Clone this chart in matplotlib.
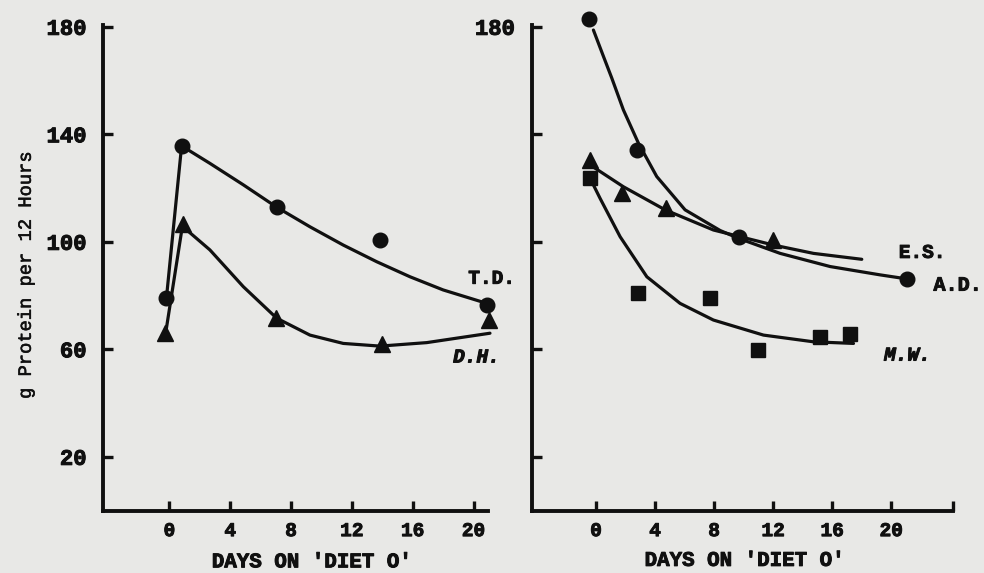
import matplotlib
matplotlib.use("Agg")
import matplotlib.pyplot as plt
import matplotlib.patheffects as pe

# ---------------- data ----------------
# Left panel
td_days = [-0.2, 0.8, 7.05, 13.85, 20.87]
td_vals = [79.0, 135.7, 112.9, 100.5, 76.5]
dh_days = [-0.3, 0.9, 7.0, 14.0, 21.0]
dh_vals = [66.0, 106.5, 71.8, 61.8, 70.8]

td_curve_days = [-0.2, 0.8, 2.66, 4.86, 7.05, 9.24, 11.43, 13.63, 15.82, 18.0, 20.87]
td_curve_vals = [79.0, 135.7, 129.2, 121.2, 112.9, 105.6, 98.8, 92.6, 87.0, 82.1, 77.1]
dh_curve_days = [-0.25, 0.85, 2.66, 4.86, 7.05, 9.24, 11.43, 13.85, 16.92, 21.08]
dh_curve_vals = [66.0, 105.8, 97.0, 83.3, 71.6, 65.3, 62.2, 61.2, 62.5, 66.0]

# Right panel
ad_days = [-0.45, 2.76, 9.65, 21.06]
ad_vals = [182.8, 134.2, 101.9, 86.2]
es_days = [-0.4, 1.74, 4.75, 12.0]
es_vals = [130.3, 118.1, 112.5, 100.6]
mw_days = [-0.4, 2.87, 7.73, 10.94, 15.19, 17.2]
mw_vals = [123.6, 81.1, 79.0, 59.8, 64.7, 65.7]

ad_curve_days = [-0.18, 0.5, 1.06, 1.85, 2.87, 4.11, 6.03, 8.41, 9.65, 12.47, 15.86, 19.25, 21.06]
ad_curve_vals = [178.8, 169.0, 161.0, 149.1, 136.7, 124.3, 111.9, 104.2, 101.3, 95.7, 90.8, 87.7, 86.2]
es_curve_days = [-0.4, 1.85, 4.68, 7.95, 12.02, 14.73, 18.0]
es_curve_vals = [128.6, 120.5, 111.9, 104.4, 98.8, 95.7, 93.5]
mw_curve_days = [-0.4, 0.27, 1.63, 3.44, 5.69, 7.95, 11.34, 14.73, 17.44]
mw_curve_vals = [123.6, 116.2, 101.9, 87.0, 77.1, 70.9, 65.3, 62.8, 62.2]

x_ticks = [0, 4, 8, 12, 16, 20]
y_ticks = [20, 60, 100, 140, 180]
left_ytick_labels = ["20", "60", "100", "140", "180"]
right_ytick_labels = ["", "", "", "", "180"]
x_label = "DAYS ON 'DIET O'"
y_label = "g Protein per 12 Hours"

# ---------------- style ----------------
BG = "#e8e8e6"
INK = "#101010"
MONO = ["Liberation Mono", "DejaVu Sans Mono"]
heavy = [pe.withStroke(linewidth=0.7, foreground=INK)]
medium = [pe.withStroke(linewidth=0.4, foreground=INK)]

fig = plt.figure(figsize=(9.84, 5.73), dpi=100, facecolor=BG)

bottom = 1 - 510.6 / 573
height = (510.6 - 25.2) / 573
axL = fig.add_axes([103.3 / 984, bottom, 384.7 / 984, height])
axR = fig.add_axes([531.7 / 984, bottom, 421.6 / 984, height])

for ax in (axL, axR):
    ax.set_facecolor(BG)
    ax.set_ylim(0, 180.6)
    for s in ("top", "right"):
        ax.spines[s].set_visible(False)
    for s in ("left", "bottom"):
        ax.spines[s].set_linewidth(2.8)
        ax.spines[s].set_color(INK)
        ax.spines[s].set_capstyle("projecting")
    ax.set_yticks(y_ticks)
    ax.tick_params(axis="both", direction="in", length=7, width=2.4, color=INK)
    ax.tick_params(axis="x", pad=9, labelsize=14)
    ax.tick_params(axis="y", pad=12, labelsize=16)
    ax.set_xlabel(x_label, fontsize=15, fontfamily=MONO, fontweight="bold",
                  color=INK, path_effects=heavy)

axL.set_xlim(-4.35, 20.95)
axR.set_xlim(-4.36, 24.2)
axL.set_xticks(x_ticks)
axR.set_xticks(x_ticks + [24.2])
axL.set_xticklabels([str(t) for t in x_ticks])
axR.set_xticklabels([str(t) for t in x_ticks] + [""])
axL.set_yticklabels(left_ytick_labels)
axR.set_yticklabels(right_ytick_labels)
for ax in (axL, axR):
    for lab in ax.get_xticklabels() + ax.get_yticklabels():
        lab.set_fontfamily(MONO)
        lab.set_fontweight("bold")
        lab.set_color(INK)
        lab.set_path_effects(heavy)

# x-label of the left panel sits a little right of centre in the reference
axL.xaxis.set_label_coords(0.542, -0.086)
axR.xaxis.set_label_coords(0.505, -0.083)

axL.set_ylabel(y_label, fontsize=13.5, fontfamily=MONO, color=INK,
               path_effects=medium)
axL.yaxis.set_label_coords(-0.178, 0.485)

lw = 2.3
ms = 10.5
line_kw = dict(color=INK, lw=lw, clip_on=False,
               solid_capstyle="round", solid_joinstyle="round")
# Left panel
axL.plot(td_curve_days, td_curve_vals, **line_kw)
axL.plot(dh_curve_days, dh_curve_vals, **line_kw)
axL.plot(td_days, td_vals, "o", color=INK, ms=ms, clip_on=False)
axL.plot(dh_days, dh_vals, "^", color=INK, ms=ms + 0.5, clip_on=False)

# Right panel
axR.plot(ad_curve_days, ad_curve_vals, **line_kw)
axR.plot(es_curve_days, es_curve_vals, **line_kw)
axR.plot(mw_curve_days, mw_curve_vals, **line_kw)
axR.plot(ad_days, ad_vals, "o", color=INK, ms=ms, clip_on=False)
axR.plot(es_days, es_vals, "^", color=INK, ms=ms + 0.5, clip_on=False)
axR.plot(mw_days, mw_vals, "s", color=INK, ms=ms - 1, clip_on=False)

# Series labels
kw = dict(fontfamily=MONO, fontweight="bold", color=INK, ha="center",
          va="center", clip_on=False, path_effects=heavy)
axL.text(21.2, 86.1, "T.D.", fontsize=14, **kw)
axL.text(20.2, 56.8, "D.H.", fontsize=14, style="italic", **kw)
axR.text(22.1, 95.7, "E.S.", fontsize=14, **kw)
axR.text(24.5, 83.9, "A.D.", fontsize=14.5, **kw)
axR.text(21.1, 57.5, "M.W.", fontsize=14, style="italic", **kw)

fig.savefig("out.png", dpi=100, facecolor=BG)
